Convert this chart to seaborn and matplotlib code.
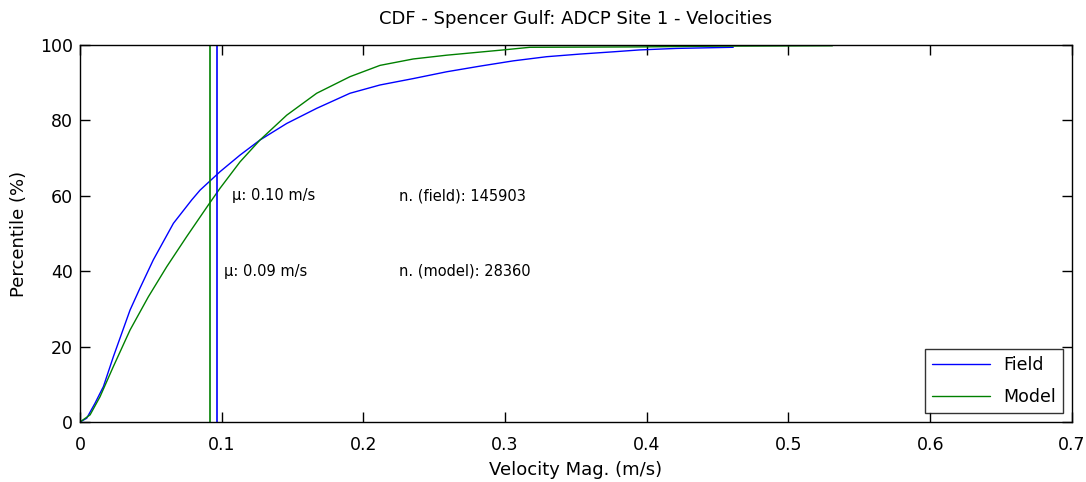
import seaborn as sns
import pandas as pd
import matplotlib.pyplot as plt

# CDF points (speed in m/s, percentile in %)
field_speed = [0, 0.0047, 0.0106, 0.0165, 0.0235, 0.0353, 0.0423, 0.0517, 0.0659, 0.0788,
               0.0847, 0.0988, 0.1129, 0.127, 0.1459, 0.167, 0.1905, 0.2117, 0.2352, 0.2587,
               0.2823, 0.3058, 0.3293, 0.3529, 0.3764, 0.395, 0.421, 0.461]
field_pct = [0, 1.0, 5.0, 9.4, 17.3, 29.7, 35.5, 43.0, 52.7, 58.9,
             61.5, 66.4, 70.8, 74.8, 79.2, 83.2, 87.2, 89.4, 91.1, 92.9,
             94.4, 95.8, 96.9, 97.6, 98.2, 98.7, 99.1, 99.4]
model_speed = [0, 0.0071, 0.0141, 0.0235, 0.0353, 0.0482, 0.0612, 0.0753, 0.0906, 0.0988,
               0.1129, 0.127, 0.1459, 0.167, 0.1905, 0.2117, 0.2352, 0.2587, 0.2987, 0.3176,
               0.395, 0.45, 0.531]
model_pct = [0, 1.9, 6.7, 14.7, 24.4, 33.2, 41.2, 49.2, 57.6, 62.0,
             69.0, 74.8, 81.4, 87.2, 91.6, 94.6, 96.3, 97.3, 98.7, 99.4,
             99.5, 99.7, 99.8]

field_mean = 0.097
model_mean = 0.0917
field_n = 145903
model_n = 28360

df = pd.concat([
    pd.DataFrame({'speed': field_speed, 'pct': field_pct, 'src': 'Field'}),
    pd.DataFrame({'speed': model_speed, 'pct': model_pct, 'src': 'Model'}),
])

sns.set_style('ticks')
plt.rcParams['font.family'] = ['DejaVu Sans']
plt.rcParams['xtick.direction'] = 'in'
plt.rcParams['ytick.direction'] = 'in'
plt.rcParams['text.color'] = 'black'
plt.rcParams['axes.labelcolor'] = 'black'
plt.rcParams['xtick.color'] = 'black'
plt.rcParams['ytick.color'] = 'black'

colors = {'Field': (0, 0, 1), 'Model': (0, 0.5, 0)}

fig = plt.figure(figsize=(10.86, 4.82), dpi=100)
ax = fig.add_axes([0.0737, 0.1245, 0.9133, 0.7821])

sns.lineplot(data=df, x='speed', y='pct', hue='src', palette=colors,
             estimator=None, sort=False, linewidth=1.0, ax=ax)

ax.axvline(field_mean, color=colors['Field'], linewidth=1.2)
ax.axvline(model_mean, color=colors['Model'], linewidth=1.2)

ax.text(field_mean + 0.01, 60, f'\u03bc: {field_mean:.2f} m/s', fontsize=10.5, va='center')
ax.text(model_mean + 0.01, 40, f'\u03bc: {model_mean:.2f} m/s', fontsize=10.5, va='center')
ax.text(0.225, 60, f'n. (field): {field_n}', fontsize=10.5, va='center')
ax.text(0.225, 40, f'n. (model): {model_n}', fontsize=10.5, va='center')

ax.set_xlim(0, 0.7)
ax.set_ylim(0, 100)
ax.set_xticks([0, 0.1, 0.2, 0.3, 0.4, 0.5, 0.6, 0.7])
ax.set_xticklabels(['0', '0.1', '0.2', '0.3', '0.4', '0.5', '0.6', '0.7'])
ax.set_yticks([0, 20, 40, 60, 80, 100])
ax.tick_params(top=True, right=True, labelsize=12.5, length=7, width=1)
ax.tick_params(axis='x', pad=10)
ax.tick_params(axis='y', pad=5)
for s in ax.spines.values():
    s.set_visible(True)
    s.set_linewidth(1)
    s.set_color('black')

ax.set_title('CDF - Spencer Gulf: ADCP Site 1 - Velocities', fontsize=13, pad=15)
ax.set_xlabel('Velocity Mag. (m/s)', fontsize=13, labelpad=5)
ax.set_ylabel('Percentile (%)', fontsize=13, labelpad=9)

leg = ax.legend(loc='lower right', fontsize=12.5, frameon=True, fancybox=False,
                edgecolor='black', handlelength=3.3, labelspacing=0.85,
                borderaxespad=0.5)
leg.get_frame().set_linewidth(1)
leg.set_title(None)

fig.savefig('out.png', dpi=100)
